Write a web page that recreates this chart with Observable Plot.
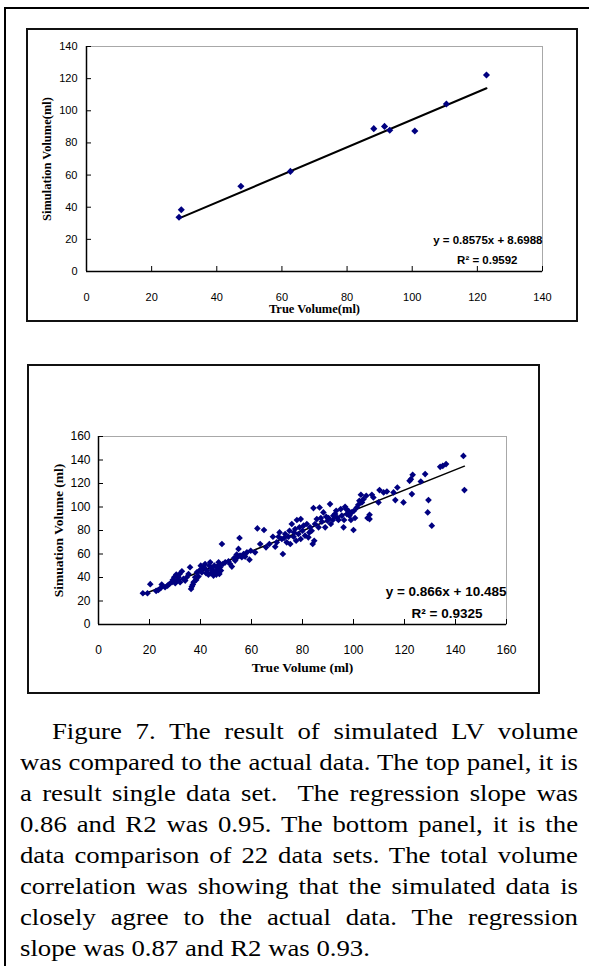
<!DOCTYPE html>
<html><head><meta charset="utf-8">
<script src="https://cdn.jsdelivr.net/npm/d3@7"></script>
<script src="https://cdn.jsdelivr.net/npm/@observablehq/plot@0.6"></script>
<style>
html,body{margin:0;padding:0;background:#fff;}
body{width:589px;height:966px;position:relative;overflow:hidden;}
.line{position:absolute;background:#000;}
.box{position:absolute;border:2px solid #111;box-sizing:border-box;}
.chart{position:absolute;}
#caption{position:absolute;left:20px;top:716px;width:479.8px;transform:scaleX(1.163);transform-origin:0 0;font-family:"Liberation Serif","Times New Roman",serif;font-size:23px;line-height:31.05px;color:#000;white-space:normal;}
#caption div{text-align:justify;text-align-last:justify;}
#caption div.first{text-indent:27.5px;}
#caption div.last{text-align:left;text-align-last:left;}
</style>
</head><body>
<div class="line" style="left:4px;top:7px;width:585px;height:2px"></div>
<div class="line" style="left:4px;top:7px;width:2px;height:959px"></div>
<div class="box" style="left:26px;top:28px;width:552px;height:294px"></div>
<div class="box" style="left:27px;top:364px;width:513px;height:330px"></div>
<div id="top" class="chart" style="left:26px;top:28px"></div>
<div id="bottom" class="chart" style="left:27px;top:364px"></div>
<div id="caption">
<div class="first">Figure 7. The result of simulated LV volume</div>
<div>was compared to the actual data. The top panel, it is</div>
<div>a result single data set.&nbsp; The regression slope was</div>
<div>0.86 and R2 was 0.95. The bottom panel, it is the</div>
<div>data comparison of 22 data sets. The total volume</div>
<div>correlation was showing that the simulated data is</div>
<div>closely agree to the actual data. The regression</div>
<div class="last">slope was 0.87 and R2 was 0.93.</div>
</div>
<script>
// ---- Top panel: single data set ----
const topTrue = [28.4, 29.1, 47.4, 62.6, 88.2, 91.5, 93.1, 100.8, 110.5, 122.8];
const topSim  = [33.8, 38.4, 53.0, 62.3, 88.9, 90.3, 87.9, 87.4, 104.2, 122.3];
const topSlope = 0.8575, topIntercept = 8.6988;
const topTicks = [0, 20, 40, 60, 80, 100, 120, 140];
const topEquation = "y = 0.8575x + 8.6988";
const topR2 = "R² = 0.9592";
const topXLabel = "True Volume(ml)";
const topYLabel = "Simulation Volume(ml)";

// ---- Bottom panel: 22 data sets ----
const bottomTrue = [17.4,19.2,20.3,22.6,23.5,24.8,24.4,26.1,27.8,28.8,
29.7,30.5,31.0,32.0,32.7,33.3,34.6,35.9,36.6,36.3,
37.3,37.9,38.6,39.2,40.1,40.9,41.8,42.5,43.1,43.8,
44.4,45.1,45.7,46.4,47.1,47.4,48.4,48.0,49.7,51.0,
52.3,53.2,54.2,55.3,54.9,56.2,56.9,59.2,59.7,61.4,
62.3,63.4,64.9,65.7,67.0,68.4,69.3,69.9,71.0,72.3,
71.9,73.2,73.8,74.9,75.8,76.5,77.1,77.8,78.8,79.3,
80.0,81.0,82.3,83.0,84.0,84.3,84.6,85.6,86.7,87.2,
88.2,88.9,89.8,90.8,91.1,92.1,93.2,94.1,95.0,96.1,
96.7,97.4,98.0,99.0,100.0,100.6,101.3,102.3,102.9,103.9,
105.0,105.5,106.3,107.2,107.8,109.8,110.2,111.8,113.1,115.7,
116.4,117.2,119.6,122.0,122.5,123.2,122.9,126.4,128.1,129.4,
129.1,130.7,134.0,135.0,136.3,143.1,143.5,
27.1,29.1,30.1,31.4,31.8,34.0,35.3,37.0,38.3,39.6,
40.5,41.4,42.2,43.5,44.0,44.8,45.4,46.2,46.7,47.2,
47.7,48.8,51.6,53.6,54.5,55.5,57.5,58.2,
70.6,72.8,74.5,75.2,76.7,77.5,78.4,79.3,80.4,81.7,
82.7,83.6,84.9,86.3,87.6,89.3,90.2,91.9,92.8,93.7,
95.4,96.3,97.1,98.4,99.3,100.2,101.9,103.3,106.3];
const bottomSim = [26.6,26.6,34.3,28.6,29.4,34.0,31.1,31.7,34.5,36.0,
40.2,42.5,37.9,36.0,45.3,38.8,40.2,48.7,32.3,30.3,
36.0,40.2,44.4,40.8,50.1,48.1,51.5,45.9,42.5,52.9,
47.3,41.6,44.4,48.7,52.9,43.0,68.5,45.9,52.9,53.8,
49.3,56.6,59.5,73.6,64.3,57.2,60.0,55.2,62.8,61.4,
81.8,68.5,80.4,65.7,68.5,74.7,66.2,69.9,78.4,60.0,
72.8,77.0,69.9,79.8,85.5,74.7,81.3,88.9,82.7,89.7,
79.8,75.6,74.2,82.7,68.5,99.1,71.3,89.7,99.6,90.6,
95.4,82.7,88.3,102.5,85.5,92.6,96.8,88.9,98.2,82.7,
100.2,94.0,96.8,88.9,80.4,90.6,99.6,105.3,110.4,106.7,
109.6,90.6,93.4,110.4,108.1,103.9,114.4,112.4,113.2,112.4,
105.9,116.6,103.9,122.3,123.7,127.4,111.0,121.7,128.0,105.9,
95.4,84.1,134.2,135.0,136.5,143.5,114.4,
33.1,37.9,35.1,40.2,43.0,37.4,43.0,34.0,37.9,45.9,
44.4,48.7,43.6,50.1,43.6,45.9,50.1,42.5,46.4,50.1,
48.7,51.5,51.5,54.4,57.2,58.6,57.8,61.4,
74.7,73.6,74.7,68.5,78.4,71.3,77.0,72.8,84.1,85.5,
78.4,79.8,85.5,82.7,87.5,91.7,90.6,88.9,94.0,90.6,
92.6,88.9,98.2,92.6,95.4,96.8,101.9,103.9,89.7];
const bottomSlope = 0.866, bottomIntercept = 10.485;
const bottomTicks = [0, 20, 40, 60, 80, 100, 120, 140, 160];
const bottomEquation = "y = 0.866x + 10.485";
const bottomR2 = "R² = 0.9325";
const bottomXLabel = "True Volume (ml)";
const bottomYLabel = "Simuation Volume (ml)";

function scatter(o) {
  const pts = o.xs.map((x, i) => ({x, y: o.ys[i]}));
  const [x0, x1] = d3.extent(o.xs);
  const fit = [x0, x1].map(x => ({x, y: o.slope * x + o.intercept}));
  const max = d3.max(o.ticks);
  const serif = "'Liberation Serif','Times New Roman',serif";
  return Plot.plot({
    width: o.width, height: o.height,
    marginLeft: o.ml, marginRight: o.mr, marginTop: o.mt, marginBottom: o.mb,
    style: {fontFamily: "'Liberation Sans',Arial,sans-serif", fontSize: o.fs + "px", background: "transparent", overflow: "visible", color: "#000"},
    x: {domain: [0, max]},
    y: {domain: [0, max]},
    marks: [
      Plot.frame({stroke: "#a8a8a8", strokeWidth: 1}),
      Plot.ruleX([0], {stroke: "#000", strokeWidth: 1.5}),
      Plot.ruleY([0], {stroke: "#000", strokeWidth: 1.5}),
      Plot.axisX(o.ticks, {tickSize: -5, tickPadding: o.xpad, label: null, fontSize: o.fs}),
      Plot.axisY(o.ticks, {tickSize: -5, tickPadding: o.ypad, label: null, fontSize: o.fs}),
      Plot.line(fit, {x: "x", y: "y", stroke: "#000", strokeWidth: o.lw}),
      Plot.dot(pts, {x: "x", y: "y", symbol: "diamond2", r: o.r, fill: "#000080", stroke: "none"}),
      Plot.text([o.xLabel], {text: d => d, frameAnchor: "bottom", textAnchor: "middle", dy: o.xLabelDy, fontFamily: serif, fontWeight: "bold", fontSize: o.lfs}),
      Plot.text([o.yLabel], {text: d => d, frameAnchor: "left", textAnchor: "middle", dx: o.yLabelDx, rotate: -90, fontFamily: serif, fontWeight: "bold", fontSize: o.lfs}),
      Plot.text([o.eq], {text: d => d, frameAnchor: "bottom-right", textAnchor: "end", dx: o.eqDx, dy: o.eqDy, fontWeight: "bold", fontSize: o.efs}),
      Plot.text([o.r2], {text: d => d, frameAnchor: "bottom-right", textAnchor: "end", dx: o.r2Dx, dy: o.r2Dy, fontWeight: "bold", fontSize: o.efs})
    ]
  });
}

document.getElementById("top").append(scatter({
  xs: topTrue, ys: topSim, slope: topSlope, intercept: topIntercept, ticks: topTicks,
  width: 552, height: 294, ml: 60, mr: 36, mt: 18, mb: 51, fs: 11, efs: 11.5, lfs: 12.5,
  xpad: 27, ypad: 14, r: 3.2, lw: 2,
  xLabel: topXLabel, yLabel: topYLabel, xLabelDy: 41, yLabelDx: -40,
  eq: topEquation, r2: topR2, eqDx: 0, eqDy: -28, r2Dx: -25, r2Dy: -8
}));

document.getElementById("bottom").append(scatter({
  xs: bottomTrue, ys: bottomSim, slope: bottomSlope, intercept: bottomIntercept, ticks: bottomTicks,
  width: 513, height: 330, ml: 71, mr: 34, mt: 72, mb: 70, fs: 12, efs: 13.5, lfs: 13.5,
  xpad: 26, ypad: 13, r: 3, lw: 1.5,
  xLabel: bottomXLabel, yLabel: bottomYLabel, xLabelDy: 47, yLabelDx: -40,
  eq: bottomEquation, r2: bottomR2, eqDx: 0, eqDy: -29, r2Dx: -24, r2Dy: -7
}));
</script>
</body></html>
